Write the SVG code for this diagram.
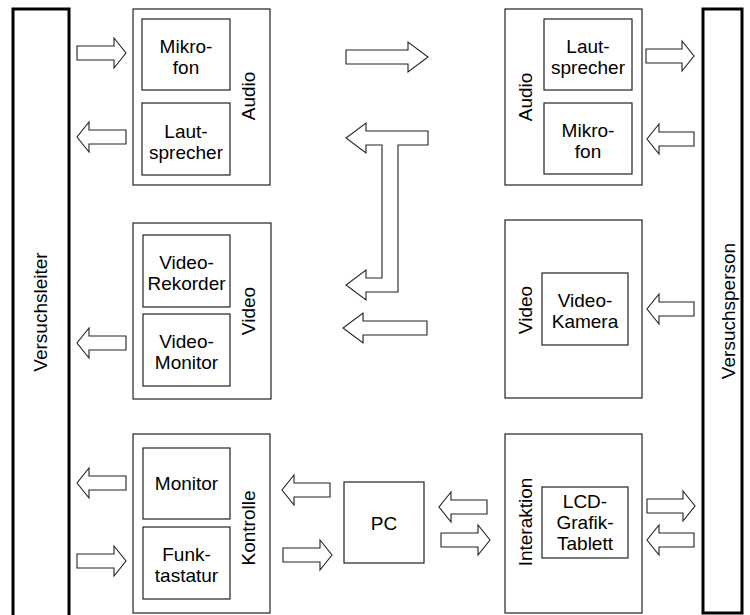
<svg xmlns="http://www.w3.org/2000/svg" width="750" height="615" viewBox="0 0 750 615">
<style>
.bar{fill:#fff;stroke:#000;stroke-width:3}
.box{fill:#fff;stroke:#222;stroke-width:1.2}
.arr{fill:#fff;stroke:#222;stroke-width:1.1;stroke-linejoin:miter}
text{font-family:"Liberation Sans",Arial,sans-serif;font-size:19px;fill:#000;text-anchor:middle}
</style>
<rect width="750" height="615" fill="#fff"/>
<g id="versuchsleiter">
<rect class="bar" x="13" y="9" width="56" height="610"/>
<text transform="translate(47,312) rotate(-90)">Versuchsleiter</text>
</g>
<g id="versuchsperson">
<rect class="bar" x="703" y="9" width="39" height="604"/>
<text transform="translate(735,311) rotate(-90)">Versuchsperson</text>
</g>
<g id="audio-links">
<rect class="box" x="133" y="9" width="137" height="176"/>
<text transform="translate(254.5,96) rotate(-90)">Audio</text>
<g id="mikrofon-links"><rect class="box" x="142" y="19" width="88" height="71"/><text x="186" y="53">Mikro-</text><text x="186" y="74">fon</text></g>
<g id="lautsprecher-links"><rect class="box" x="142" y="103" width="88" height="72"/><text x="186" y="138">Laut-</text><text x="186" y="159">sprecher</text></g>
</g>
<g id="video-links">
<rect class="box" x="133" y="223" width="138" height="176"/>
<text transform="translate(254.5,311) rotate(-90)">Video</text>
<g id="videorekorder"><rect class="box" x="143" y="235" width="87" height="72"/><text x="186.5" y="269">Video-</text><text x="186.5" y="290">Rekorder</text></g>
<g id="videomonitor"><rect class="box" x="143" y="314" width="87" height="72"/><text x="186.5" y="348">Video-</text><text x="186.5" y="369">Monitor</text></g>
</g>
<g id="kontrolle">
<rect class="box" x="133" y="434" width="137" height="179"/>
<text transform="translate(254.5,528) rotate(-90)">Kontrolle</text>
<g id="monitor"><rect class="box" x="143" y="448" width="87" height="71"/><text x="186.5" y="490">Monitor</text></g>
<g id="funktastatur"><rect class="box" x="143" y="527" width="87" height="72"/><text x="186.5" y="561">Funk-</text><text x="186.5" y="582">tastatur</text></g>
</g>
<g id="pc">
<rect class="box" x="344" y="482" width="80" height="81"/>
<text x="384" y="530">PC</text>
</g>
<g id="audio-rechts">
<rect class="box" x="505" y="9" width="137" height="176"/>
<text transform="translate(532,97) rotate(-90)">Audio</text>
<g id="lautsprecher-rechts"><rect class="box" x="544" y="19" width="88" height="71"/><text x="588" y="53">Laut-</text><text x="588" y="74">sprecher</text></g>
<g id="mikrofon-rechts"><rect class="box" x="544" y="103" width="88" height="71"/><text x="588" y="137">Mikro-</text><text x="588" y="158">fon</text></g>
</g>
<g id="video-rechts">
<rect class="box" x="505" y="220" width="137" height="178"/>
<text transform="translate(532,310) rotate(-90)">Video</text>
<g id="videokamera"><rect class="box" x="542" y="273" width="86" height="72"/><text x="585" y="307">Video-</text><text x="585" y="328">Kamera</text></g>
</g>
<g id="interaktion">
<rect class="box" x="505" y="434" width="137" height="179"/>
<text transform="translate(532,522) rotate(-90)">Interaktion</text>
<g id="lcd-tablett"><rect class="box" x="542" y="487" width="86" height="71"/><text x="585" y="508">LCD-</text><text x="585" y="529">Grafik-</text><text x="585" y="550">Tablett</text></g>
</g>
<g id="connectors">
<path class="arr" d="M77,46 H114 V38 L126,53 L114,68 V60 H77 Z"/>
<path class="arr" d="M126,130 H89 V122 L77,137 L89,152 V144 H126 Z"/>
<path class="arr" d="M126,336 H89 V328 L77,343 L89,358 V350 H126 Z"/>
<path class="arr" d="M126,476 H89 V468 L77,483 L89,498 V490 H126 Z"/>
<path class="arr" d="M77,554 H114 V546 L126,561 L114,576 V568 H77 Z"/>
<path class="arr" d="M346,50 H408 V42 L428,57 L408,72 V64 H346 Z"/>
<path class="arr" d="M428,131 H366 V123 L346,138 L366,153 V145 H382 V278 H366 V270 L346,285 L366,300 V292 H398 V145 H428 Z"/>
<path class="arr" d="M427,321 H363 V313 L343,328 L363,343 V335 H427 Z"/>
<path class="arr" d="M330,483 H294 V475 L282,490 L294,505 V497 H330 Z"/>
<path class="arr" d="M283,548 H320 V540 L332,555 L320,570 V562 H283 Z"/>
<path class="arr" d="M487,500 H451 V492 L439,507 L451,522 V514 H487 Z"/>
<path class="arr" d="M441,533 H478 V525 L490,540 L478,555 V547 H441 Z"/>
<path class="arr" d="M646,49 H682 V41 L694,56 L682,71 V63 H646 Z"/>
<path class="arr" d="M694,132 H659 V124 L647,139 L659,154 V146 H694 Z"/>
<path class="arr" d="M694,302 H659 V294 L647,309 L659,324 V316 H694 Z"/>
<path class="arr" d="M647,499 H683 V491 L695,506 L683,521 V513 H647 Z"/>
<path class="arr" d="M694,533 H659 V525 L647,540 L659,555 V547 H694 Z"/>
</g>
</svg>
